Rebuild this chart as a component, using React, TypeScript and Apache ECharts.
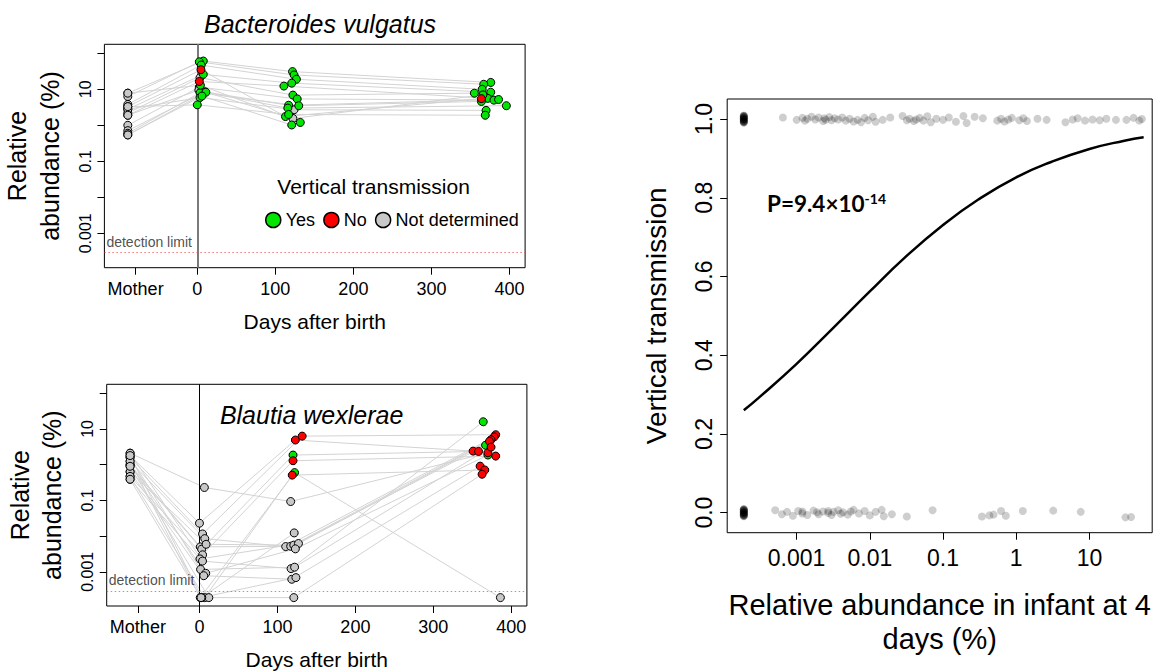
import React, { useEffect, useRef } from 'react';
import * as echarts from 'echarts';

type Status = 'Y' | 'N' | 'U';
type Pt = [number, number, Status] | null; // [day after birth, relative abundance %, vertical transmission]

const FONT = '"Liberation Sans", Arial, Helvetica, sans-serif';
const COLORS: Record<Status, string> = { Y: '#00E600', N: '#FF0000', U: '#C8C8C8' };
const STATUS_NAMES: Record<Status, string> = { Y: 'Yes', N: 'No', U: 'Not determined' };

const motherDay = -89;
const motherTickDay = -79;
const dayTicks = [0, 100, 200, 300, 400];
const detectionLimit = 0.00029;
const BL = 0.00019; // below detection limit
const abundanceTicks = [0.001, 0.01, 0.1, 1, 10, 100];
const abundanceLabels = [0.001, 0.1, 10];

// ---------- Bacteroides vulgatus ----------
const bvMother: (number | null)[] = [7.8, 6.3, 3.8, 3.3, 2.8, 2.2, 1.9, 1.0, 0.71, 0.6, 0.54, 2.8, 3.3, 1.9, 7.8, 0.54];
const bvDay4: Pt[] = [
  [7.7, 61, 'Y'], [2.6, 58, 'Y'], [5, 47, 'Y'], [4.7, 35, 'N'], [7.7, 26, 'Y'], [3.5, 21, 'U'],
  [2.6, 16.5, 'N'], [2.6, 11.5, 'U'], [9.9, 8.5, 'Y'], [3.5, 8.0, 'Y'], [11, 8.3, 'Y'], [3.5, 5.9, 'Y'],
  [0, 3.7, 'Y'], [2, 9.5, 'U'], [4, 13, 'Y'], [6, 6.5, 'Y'],
];
const bvDay120: Pt[] = [
  [122, 31, 'Y'], [124, 25, 'Y'], [127, 19, 'Y'], [113, 1.75, 'Y'], [121, 14.8, 'Y'], [122.5, 6.9, 'Y'],
  [111, 12.3, 'Y'], [128, 5.4, 'Y'], [117, 3.6, 'Y'], [130, 3.5, 'Y'], [116, 3.0, 'Y'], [124, 2.7, 'U'],
  [117, 2.0, 'Y'], [122.5, 1.55, 'U'], [132, 1.2, 'Y'], [121, 1.02, 'Y'],
];
const bvDay365: Pt[] = [
  [376, 15.5, 'Y'], [367, 13.8, 'Y'], [365, 10, 'Y'], [364, 5.5, 'N'], [376, 8.3, 'Y'], [355, 7.8, 'Y'],
  [372, 5.6, 'Y'], [380, 5.0, 'Y'], [386, 5.2, 'Y'], [364, 4.6, 'Y'], [396, 3.5, 'Y'], [370, 2.6, 'Y'],
  [369, 1.9, 'Y'], [366, 7.0, 'Y'], null, null,
];

// ---------- Blautia wexlerae ----------
const bwMother: (number | null)[] = [2.1, 1.8, 1.6, 1.25, 1.0, 0.9, 0.63, 0.47, 0.39, 2.1, 1.6, 1.0, 0.63, 1.25, 0.47, 0.9, 1.8, 0.39];
const bwDay4: Pt[] = [
  [6.3, 0.23, 'U'], [0, 0.023, 'U'], [4, 0.0115, 'U'], [6.8, 0.0085, 'U'], [1, 0.005, 'U'], [2.8, 0.0043, 'U'],
  [8.5, 0.0059, 'U'], [4, 0.003, 'U'], [0.6, 0.0023, 'U'], [3.9, 0.002, 'U'], [1.4, 0.00117, 'U'], [8, 0.00091, 'U'],
  [5.5, 0.00078, 'U'], [1, BL, 'U'], [6.7, BL, 'U'], [12, BL, 'U'], [3, BL, 'U'], [2, BL, 'U'],
];
const bwDay120: Pt[] = [
  [117, 0.093, 'U'], [123, 4.9, 'N'], [131.7, 6.3, 'N'], [110.6, 0.0051, 'U'], [117, 0.0052, 'U'], [120, 1.86, 'Y'],
  [121, 0.0056, 'U'], [120, 1.29, 'N'], [127, 0.0062, 'U'], [117.5, 0.00123, 'U'], [122, 0.00135, 'U'], [123, 0.0044, 'U'],
  [118.4, 0.00062, 'U'], [122, 0.6, 'Y'], [119, 0.51, 'N'], [121, BL, 'U'], [121.5, 0.0123, 'U'], [123.7, 0.00069, 'U'],
];
const bwDay365: Pt[] = [
  [370, 2.15, 'N'], [351, 2.4, 'N'], [380, 6.9, 'N'], [378, 6.0, 'N'], [374, 5.0, 'N'], [358, 2.35, 'N'],
  [367, 3.5, 'Y'], [380, 1.74, 'N'], [372, 4.5, 'N'], [364, 15.9, 'Y'], [374, 3.1, 'N'], [370, 1.86, 'Y'],
  [360, 0.91, 'N'], [386, BL, 'U'], [366, 0.71, 'N'], [362.5, 0.54, 'N'], null, null,
];

// ---------- Vertical transmission vs abundance at 4 days ----------
const vtXTicks = [0.001, 0.01, 0.1, 1, 10];
const vtYTicks = [0, 0.2, 0.4, 0.6, 0.8, 1.0];
const vtZeroAbund = BL;
const vtZeroYesJitter = [1.009, 1.007, 1.005, 1.003, 1.001, 0.999, 0.997, 0.995, 0.993, 0.991, 1.008, 1.004, 1.0, 0.996, 0.992, 1.006, 1.002, 0.998, 0.994, 1.0, 1.008, 0.992];
const vtZeroNoJitter = [0.009, 0.007, 0.005, 0.003, 0.001, -0.001, -0.003, -0.005, -0.007, -0.009, 0.008, 0.004, 0.0, -0.004, -0.008, 0.006, 0.002, -0.002, -0.006, 0.0, 0.008, -0.008];
const vtYesAbund = [
  0.00065, 0.001, 0.0012, 0.0013, 0.0014, 0.0016, 0.0018, 0.002, 0.0023, 0.0024, 0.0025, 0.0028, 0.003, 0.0033,
  0.0037, 0.0042, 0.0047, 0.0053, 0.006, 0.0068, 0.0076, 0.0085, 0.0095, 0.011, 0.012, 0.015, 0.019, 0.028,
  0.032, 0.035, 0.04, 0.043, 0.048, 0.054, 0.061, 0.068, 0.081, 0.1, 0.12, 0.15, 0.19, 0.21, 0.27, 0.35,
  0.55, 0.62, 0.69, 0.78, 0.87, 1.1, 1.25, 1.4, 1.95, 2.6, 4.7, 5.9, 6.9, 8.7, 11, 13.8, 17, 23, 32, 40, 48, 52,
];
const vtYesJitter = [
  1.004, 0.998, 1.003, 0.996, 1.001, 1.006, 0.999, 1.004, 0.995, 1.002, 0.998, 1.005, 0.997, 1.002,
  0.999, 1.004, 0.996, 1.001, 0.994, 0.998, 0.992, 1.003, 0.997, 1.006, 0.993, 0.998, 1.004, 1.008,
  0.997, 1.001, 0.995, 0.999, 1.003, 0.996, 1.007, 0.992, 1.001, 0.998, 1.004, 0.993, 1.008, 0.99, 1.006, 1.002,
  0.996, 1.001, 0.994, 0.999, 1.003, 0.997, 1.002, 0.995, 1.001, 0.998, 0.992, 0.999, 1.002, 0.996, 0.999, 0.997, 1.001, 0.998, 0.998, 1.003, 0.996, 1.0,
];
const vtNoAbund = [
  0.00051, 0.00063, 0.00074, 0.00089, 0.00105, 0.0012, 0.0012, 0.0014, 0.0017, 0.0019, 0.002, 0.0023, 0.0027, 0.0027,
  0.003, 0.0032, 0.0037, 0.004, 0.0043, 0.005, 0.0055, 0.006, 0.0071, 0.0085, 0.01, 0.012, 0.0145, 0.0155, 0.02,
  0.032, 0.072, 0.34, 0.43, 0.49, 0.62, 0.72, 1.23, 3.2, 7.6, 31, 37,
];
const vtNoJitter = [
  0.006, -0.004, 0.002, -0.008, 0.004, -0.002, 0.003, -0.006, 0.005, 0.001, -0.004, 0.003, -0.001, 0.004,
  -0.006, 0.002, 0.006, -0.003, 0.001, -0.005, 0.003, 0.007, -0.002, 0.004, -0.007, 0.002, 0.007, -0.009, -0.004,
  -0.01, 0.006, -0.01, -0.007, -0.005, 0.004, -0.008, 0.004, 0.005, 0.002, -0.012, -0.011,
];
const curveAbund = [0.00019, 0.0003, 0.001, 0.003, 0.01, 0.03, 0.1, 0.3, 1, 3, 10, 30, 55];
const curveProb = [0.26, 0.291, 0.378, 0.465, 0.562, 0.648, 0.731, 0.795, 0.852, 0.891, 0.924, 0.945, 0.954];

const lg = (v: number) => Math.log10(v);
const tickLabel = (list: number[]) => (l: number) => {
  const t = list.find((x) => Math.abs(lg(x) - l) < 1e-6);
  return t === undefined ? '' : String(t);
};

function buildPanel(idx: number, mother: (number | null)[], times: Pt[][], zeroColor: string, zeroWidth: number) {
  const out: any[] = [];
  mother.forEach((m, i) => {
    const pts: number[][] = [];
    if (m != null) pts.push([motherDay, lg(m)]);
    times.forEach((tp) => {
      const p = tp[i];
      if (p) pts.push([p[0], lg(p[1])]);
    });
    out.push({
      type: 'line', xAxisIndex: idx, yAxisIndex: idx, data: pts, symbol: 'none', silent: true, z: 2,
      lineStyle: { color: '#D3D3D3', width: 1 },
    });
  });
  out.push({
    type: 'line', xAxisIndex: idx, yAxisIndex: idx, data: [], silent: true, z: 3,
    markLine: {
      silent: true, symbol: ['none', 'none'], animation: false,
      data: [
        { xAxis: 0, lineStyle: { color: zeroColor, width: zeroWidth, type: 'solid' }, label: { show: false } },
        {
          yAxis: lg(detectionLimit), lineStyle: { color: '#FF5050', width: 1, type: [1.5, 2.5], opacity: 0.8 },
          label: { show: true, position: 'insideStartTop', formatter: 'detection limit', fontSize: 14, color: '#222', fontFamily: FONT, distance: [2, 4] },
        },
      ],
    },
  });
  const groups: Record<Status, number[][]> = { U: [], Y: [], N: [] };
  mother.forEach((m) => { if (m != null) groups.U.push([motherDay, lg(m)]); });
  times.forEach((tp) => tp.forEach((p) => { if (p) groups[p[2]].push([p[0], lg(p[1])]); }));
  (['U', 'Y', 'N'] as Status[]).forEach((k, j) =>
    out.push({
      type: 'scatter', name: STATUS_NAMES[k], xAxisIndex: idx, yAxisIndex: idx, data: groups[k],
      symbol: 'circle', symbolSize: 8, z: 5 + j, silent: true,
      itemStyle: { color: COLORS[k], borderColor: '#000', borderWidth: 1, opacity: 1 },
    })
  );
  return out;
}

const tickStyle = { show: true, length: 7, lineStyle: { color: '#000', width: 1 } };

const leftX = (idx: number) => ({
  type: 'value', gridIndex: idx, min: -119, max: 420,
  axisLine: { show: false, onZero: false }, splitLine: { show: false },
  axisTick: { ...tickStyle, customValues: [motherTickDay, ...dayTicks] },
  axisLabel: {
    customValues: [motherTickDay, ...dayTicks],
    formatter: (v: number) => (v === motherTickDay ? 'Mother' : String(v)),
    fontSize: 18, color: '#000', margin: 12, fontFamily: FONT,
  },
  name: 'Days after birth', nameLocation: 'middle', nameGap: 43,
  nameTextStyle: { fontSize: 21, color: '#000', fontFamily: FONT },
});

const leftY = (idx: number) => ({
  type: 'value', gridIndex: idx, min: -3.956, max: 2.25,
  axisLine: { show: false, onZero: false }, splitLine: { show: false },
  axisTick: { ...tickStyle, customValues: abundanceTicks.map(lg) },
  axisLabel: {
    customValues: abundanceLabels.map(lg), formatter: tickLabel(abundanceLabels),
    rotate: 90, fontSize: 16, color: '#000', margin: 11, fontFamily: FONT,
  },
  name: 'Relative\nabundance (%)', nameLocation: 'middle', nameGap: 38, nameRotate: 90,
  nameTextStyle: { fontSize: 25, lineHeight: 32.7, color: '#000', fontFamily: FONT, align: 'center' },
});

function buildOption() {
  const series: any[] = [
    ...buildPanel(0, bvMother, [bvDay4, bvDay120, bvDay365], '#7A7A7A', 2),
    ...buildPanel(1, bwMother, [bwDay4, bwDay120, bwDay365], '#000000', 1),
  ];
  const vtPts: number[][] = [];
  vtZeroYesJitter.forEach((y) => vtPts.push([lg(vtZeroAbund), y]));
  vtZeroNoJitter.forEach((y) => vtPts.push([lg(vtZeroAbund), y]));
  vtYesAbund.forEach((a, i) => vtPts.push([lg(a), vtYesJitter[i]]));
  vtNoAbund.forEach((a, i) => vtPts.push([lg(a), vtNoJitter[i]]));
  series.push({
    type: 'scatter', xAxisIndex: 2, yAxisIndex: 2, data: vtPts, symbol: 'circle', symbolSize: 8, silent: true,
    itemStyle: { color: 'rgba(0,0,0,0.24)', borderWidth: 0 }, z: 3,
  });
  series.push({
    type: 'line', xAxisIndex: 2, yAxisIndex: 2, data: curveAbund.map((a, i) => [lg(a), curveProb[i]]),
    smooth: true, symbol: 'none', silent: true, z: 4, lineStyle: { color: '#000', width: 2.5 },
  });

  return {
    animation: false,
    backgroundColor: '#fff',
    textStyle: { fontFamily: FONT },
    grid: [
      { left: 104.3, top: 44.3, width: 420.8, height: 223.4, show: true, borderColor: '#000', borderWidth: 1, backgroundColor: 'transparent' },
      { left: 106.7, top: 384.3, width: 420.2, height: 223.4, show: true, borderColor: '#000', borderWidth: 1, backgroundColor: 'transparent' },
      { left: 727.2, top: 99, width: 425, height: 433.7, show: true, borderColor: '#000', borderWidth: 1, backgroundColor: 'transparent' },
    ],
    xAxis: [
      leftX(0),
      leftX(1),
      {
        type: 'value', gridIndex: 2, min: -3.948, max: 1.857,
        axisLine: { show: false, onZero: false }, splitLine: { show: false },
        axisTick: { ...tickStyle, customValues: vtXTicks.map(lg) },
        axisLabel: { customValues: vtXTicks.map(lg), formatter: tickLabel(vtXTicks), fontSize: 23, color: '#000', margin: 14, fontFamily: FONT },
        name: 'Relative abundance in infant at 4\ndays (%)', nameLocation: 'middle', nameGap: 56,
        nameTextStyle: { fontSize: 29, lineHeight: 33.3, color: '#000', fontFamily: FONT, align: 'center' },
      },
    ],
    yAxis: [
      leftY(0),
      leftY(1),
      {
        type: 'value', gridIndex: 2, min: -0.051, max: 1.051,
        axisLine: { show: false, onZero: false }, splitLine: { show: false },
        axisTick: { ...tickStyle, customValues: vtYTicks },
        axisLabel: { customValues: vtYTicks, formatter: (v: number) => v.toFixed(1), rotate: 90, fontSize: 23, color: '#000', margin: 12, fontFamily: FONT },
        name: 'Vertical transmission', nameLocation: 'middle', nameGap: 57, nameRotate: 90,
        nameTextStyle: { fontSize: 28, color: '#000', fontFamily: FONT },
      },
    ],
    legend: {
      left: 265, top: 211, padding: 0, itemGap: 8, itemWidth: 15, itemHeight: 15,
      selectedMode: false,
      textStyle: { fontSize: 18, color: '#000', fontFamily: FONT },
      data: (['Y', 'N', 'U'] as Status[]).map((k) => ({
        name: STATUS_NAMES[k], icon: 'circle',
        itemStyle: { color: COLORS[k], borderColor: '#000', borderWidth: 1.5 },
      })),
    },
    graphic: [
      { type: 'text', x: 320, y: 24, z: 100, style: { text: 'Bacteroides vulgatus', fontSize: 25, fontStyle: 'italic', fontFamily: FONT, fill: '#000', align: 'center', verticalAlign: 'middle' } },
      { type: 'text', x: 311.6, y: 415, z: 100, style: { text: 'Blautia wexlerae', fontSize: 25, fontStyle: 'italic', fontFamily: FONT, fill: '#000', align: 'center', verticalAlign: 'middle' } },
      { type: 'text', x: 373.6, y: 186.7, z: 100, style: { text: 'Vertical transmission', fontSize: 21, fontFamily: FONT, fill: '#000', align: 'center', verticalAlign: 'middle' } },
      {
        type: 'text', x: 767, y: 203, z: 100,
        style: {
          text: '{m|P=9.4×10}{s|-14}', align: 'left', verticalAlign: 'middle', fill: '#000',
          rich: {
            m: { fontSize: 22.5, fontWeight: 'bold', fontFamily: 'Lato, "Open Sans", sans-serif', fill: '#000' },
            s: { fontSize: 14, fontWeight: 'bold', fontFamily: 'Lato, "Open Sans", sans-serif', fill: '#000', verticalAlign: 'top' },
          },
        },
      },
    ],
    series,
  };
}

export default function App() {
  const ref = useRef<HTMLDivElement>(null);
  useEffect(() => {
    if (!ref.current) return;
    const chart = echarts.init(ref.current, null, { renderer: 'svg' });
    chart.setOption(buildOption() as any);
    return () => chart.dispose();
  }, []);
  return <div ref={ref} style={{ position: 'absolute', left: 0, top: 0, width: 1161, height: 671, background: '#fff' }} />;
}
